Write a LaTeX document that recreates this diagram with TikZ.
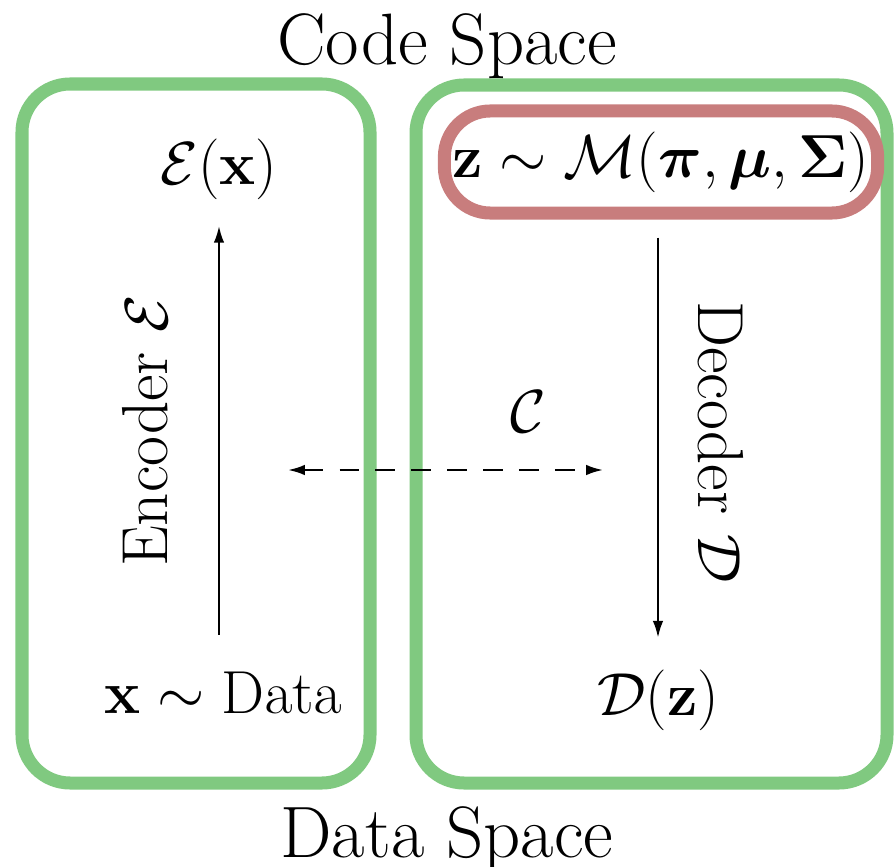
\documentclass[tikz,border=0pt]{standalone}
\usepackage{bm}
\usetikzlibrary{arrows.meta,calc}

\definecolor{spacegreen}{RGB}{128,201,128}
\definecolor{mixred}{RGB}{200,125,125}

\begin{document}
\begin{tikzpicture}[
  x=0.01cm, y=-0.01cm,
  title/.style={font=\fontsize{20.7}{24}\selectfont, inner sep=0pt, anchor=base},
  lbl/.style={font=\fontsize{17.3}{20}\selectfont, inner sep=0pt, anchor=base},
  side/.style={font=\fontsize{18.5}{22}\selectfont, inner sep=0pt, anchor=base},
  spacebox/.style={draw=spacegreen, line width=0.13cm, rounded corners=0.48cm},
  mixbox/.style={draw=mixred, line width=0.13cm, rounded corners=0.46cm,
                 minimum width=4.33cm, minimum height=1.02cm, inner sep=0pt,
                 font=\fontsize{16.6}{20}\selectfont},
  arrow/.style={-{Latex[length=4.8pt,width=3pt]}, line width=0.65pt},
  dasharrow/.style={{Latex[length=4.8pt,width=3pt]}-{Latex[length=4.8pt,width=3pt]},
                    line width=0.65pt, dash pattern=on 5.6pt off 4.6pt}
]
\useasboundingbox (0,0) rectangle (894,867);

% the two spaces
\draw[spacebox] (22,84) rectangle (370,783);
\draw[spacebox] (416,85) rectangle (887,783);

\node[title] (code) at (447,65) {Code Space};
\node[title] (data) at (447,857) {Data Space};

% encoder side
\node[lbl] (encx) at (219,185) {$\mathcal{E}(\mathbf{x})$};
\node[lbl] (xdata) at (223,713) {$\mathbf{x} \sim \mathrm{Data}$};
\node[side, rotate=90] (enc) at (167,431) {Encoder $\mathcal{E}$};

% decoder side
\node[mixbox] (zm) at (661,162) {$\mathbf{z} \sim \mathcal{M}(\bm{\pi}, \bm{\mu}, \bm{\Sigma})$};
\node[lbl] (decz) at (658,715) {$\mathcal{D}(\mathbf{z})$};
\node[side, rotate=-90] (dec) at (698,442) {Decoder $\mathcal{D}$};

% consistency
\coordinate (cl) at (288,470);
\coordinate (cr) at (603,470);
\node[lbl] (cons) at (528,432) {$\mathcal{C}$};

\draw[arrow, shorten <=0.36cm, shorten >=0.25cm]
  (encx.south |- xdata.north) -- (encx.south);
\draw[arrow, shorten <=0.18cm, shorten >=0.31cm]
  (zm.south -| decz.north) -- (decz.north);
\draw[dasharrow] (cl) -- (cr);
\end{tikzpicture}
\end{document}
